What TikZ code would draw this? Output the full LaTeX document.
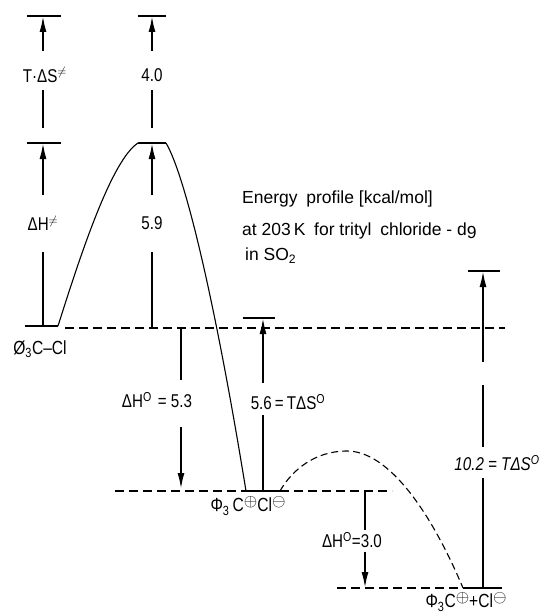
\documentclass[tikz,border=0pt]{standalone}
\usepackage{fontspec}
\setmainfont{Liberation Sans}
\newfontfamily\narrowsans{Liberation Sans}[FakeStretch=0.82]
\newcommand{\chgp}{\raisebox{5pt}{\fontsize{16}{16}\selectfont$\oplus$}}
\newcommand{\chgm}{\raisebox{5pt}{\fontsize{16}{16}\selectfont$\ominus$}}
\usetikzlibrary{arrows.meta}

\begin{document}
\begin{tikzpicture}[
  x=1pt, y=-1pt,
  font=\fontsize{17.5}{20}\selectfont,
  >=Latex,
  level/.style={line width=2.8pt},
  dimline/.style={line width=1.9pt},
  dimarr/.style={-{Latex[length=16pt,width=7pt]}, line width=1.9pt},
  refline/.style={line width=1.2pt, dash pattern=on 9pt off 5pt},
  profile/.style={line width=1.1pt},
  dimlabel/.style={inner sep=0pt, font=\fontsize{18.5}{20}\selectfont\narrowsans},
  species/.style={inner sep=0pt, font=\fontsize{19}{20}\selectfont\narrowsans}
]
  \useasboundingbox (0,0) rectangle (538,615);

  % energy levels: reactant, transition state, ion pair, free ions
  \coordinate (R1) at (25,326);  \coordinate (R2) at (58,326);
  \coordinate (T1) at (138,143); \coordinate (T2) at (166,143);
  \coordinate (I1) at (246,491); \coordinate (I2) at (280,491);
  \coordinate (Imax) at (347,451);
  \coordinate (P1) at (463,588); \coordinate (P2) at (502,588);
  % ends of the dashed reference lines
  \coordinate (Rl) at (65,328);  \coordinate (Rr) at (505,328);
  \coordinate (Il) at (115,491); \coordinate (Ir) at (392,491);
  \coordinate (Pl) at (337,588);

  % ends of the dimension lines, one column each
  \foreach \yy [count=\i from 0] in {16,51,90,128,143,195,252,326}
    \coordinate (a\i) at (43,\yy);
  \foreach \yy [count=\i from 0] in {16,51,90,128,143,195,252,327}
    \coordinate (b\i) at (152,\yy);
  \foreach \yy [count=\i from 0] in {328,380,427,489}
    \coordinate (c\i) at (181,\yy);
  \foreach \yy [count=\i from 0] in {318,383,415,491}
    \coordinate (d\i) at (263,\yy);
  \foreach \yy [count=\i from 0] in {492,530,552,588}
    \coordinate (e\i) at (365,\yy);
  \foreach \yy [count=\i from 0] in {271,362,385,447,478,588}
    \coordinate (f\i) at (483,\yy);

  % marks that close the dimensions
  \foreach \xa/\xb/\yy in {27/61/16, 27/61/143, 138/166/16, 243/275/318, 468/500/271}
    \draw[level] (\xa,\yy) -- (\xb,\yy);

  % reference levels
  \draw[refline] (Rl) -- (Rr);
  \draw[refline] (Il) -- (I1);
  \draw[refline] (I2) -- (Ir);
  \draw[refline] (Pl) -- (P1);

  % the levels themselves
  \draw[level] (R1) -- (R2);
  \draw[level] (T1) -- (T2);
  \draw[level] (I1) -- (I2);
  \draw[level] (P1) -- (P2);

  % reaction path
  \draw[profile] (R2) .. controls (82,250) and (112,160) .. (T1);
  \draw[profile] (T2) .. controls (185,175) and (215,300) .. (I1);
  \draw[profile, dash pattern=on 7pt off 4pt] (I2) .. controls (292,470) and (315,451) .. (Imax)
        .. controls (386,451) and (428,505) .. (P1);

  % dimension labels
  \node[dimlabel] (lTdS) at (45,75) {T·ΔS$^{\neq}$};
  \node[dimlabel] (l40) at (152,75) {4.0};
  \node[dimlabel] (lHact) at (43,223) {ΔH$^{\neq}$};
  \node[dimlabel] (l59) at (152,223) {5.9};
  \node[dimlabel] (lH53) at (157,400) {ΔH\textsuperscript{O}\,\,= 5.3};
  \node[dimlabel] (l56) at (288,402) {5.6\,=\,TΔS\textsuperscript{O}};
  \node[dimlabel] (lH30) at (352,540) {ΔH\textsuperscript{O}=3.0};
  \node[dimlabel] (l102) at (497,463) {\itshape 10.2 = TΔS\textsuperscript{O}};

  % dimension lines
  \draw[dimarr] (a1) -- (a0);
  \draw[dimline] (a2) -- (a3);
  \draw[dimarr] (a5) -- (a4);
  \draw[dimline] (a6) -- (a7);
  \draw[dimarr] (b1) -- (b0);
  \draw[dimline] (b2) -- (b3);
  \draw[dimarr] (b5) -- (b4);
  \draw[dimline] (b6) -- (b7);
  \draw[dimline] (c0) -- (c1);
  \draw[dimarr] (c2) -- (c3);
  \draw[dimarr] (d1) -- (d0);
  \draw[dimline] (d2) -- (d3);
  \draw[dimline] (e0) -- (e1);
  \draw[dimarr] (e2) -- (e3);
  \draw[dimarr] (f1) -- (f0);
  \draw[dimline] (f2) -- (f3);
  \draw[dimline] (f4) -- (f5);

  % species
  \node[species] (lR) at (40,349) {Ø\textsubscript{3}C–Cl};
  \node[species] (lI) at (248,506) {Φ\textsubscript{3}\,C\chgp Cl\chgm};
  \node[species] (lP) at (466,602) {Φ\textsubscript{3}C\chgp+Cl\chgm};

  \node[anchor=north west, align=left, inner sep=0pt, font=\fontsize{17.5}{32}\selectfont] (title) at (242,191)
    {Energy\enspace profile [kcal/mol]\\
     at 203\,K\enspace for trityl\enspace chloride - d\raisebox{-3pt}{9}\\[-7pt]
     \,in SO\textsubscript{2}};
\end{tikzpicture}
\end{document}
